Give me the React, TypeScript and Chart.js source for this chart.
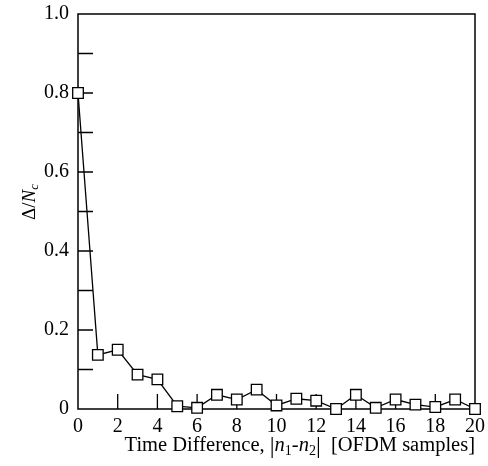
import React, { useEffect, useRef } from "react";
import { Chart, registerables } from "chart.js";

Chart.register(...registerables);

const X_VALUES = [0, 1, 2, 3, 4, 5, 6, 7, 8, 9, 10, 11, 12, 13, 14, 15, 16, 17, 18, 19, 20];
const DELTA_NC = [0.8, 0.137, 0.15, 0.087, 0.075, 0.007, 0.003, 0.036, 0.024, 0.049, 0.009, 0.026, 0.021, 0.0, 0.036, 0.003, 0.024, 0.011, 0.005, 0.024, 0.0];
const X_TITLE_PLAIN = "Time Difference, ";
const X_TITLE_UNIT = "  [OFDM samples]";
const Y_TITLE_DELTA = "Δ/";
const Y_TITLE_N = "N";
const Y_TITLE_SUB = "c";

const FONT = "'Liberation Serif', 'Times New Roman', serif";

type Run = { text: string; italic?: boolean; sub?: boolean; size?: number; dy?: number };

function runFont(r: Run, base: number) {
  const size = r.size ?? (r.sub ? Math.round(base * 0.7) : base);
  return `${r.italic ? "italic " : ""}${size}px ${FONT}`;
}

function measureRuns(ctx: CanvasRenderingContext2D, runs: Run[], base: number) {
  let w = 0;
  for (const r of runs) {
    ctx.font = runFont(r, base);
    w += ctx.measureText(r.text).width;
  }
  return w;
}

function drawRuns(ctx: CanvasRenderingContext2D, runs: Run[], x: number, y: number, base: number, subDy: number) {
  let cx = x;
  for (const r of runs) {
    ctx.font = runFont(r, base);
    ctx.fillText(r.text, cx, y + (r.sub ? subDy : 0) + (r.dy ?? 0));
    cx += ctx.measureText(r.text).width;
  }
}

function zeroPadding(s: any) {
  s.paddingTop = 0;
  s.paddingBottom = 0;
  s.paddingLeft = 0;
  s.paddingRight = 0;
}

const decorPlugin = {
  id: "decor",
  beforeDatasetsDraw(chart: any) {
    const { ctx, chartArea, scales } = chart;
    const { left, right, top, bottom } = chartArea;
    ctx.save();
    ctx.strokeStyle = "#000";
    ctx.lineWidth = 1.5;
    ctx.strokeRect(left, top, right - left, bottom - top);
    ctx.lineWidth = 1.3;
    ctx.beginPath();
    for (const t of scales.y.ticks) {
      const py = scales.y.getPixelForValue(t.value);
      if (py <= top + 1 || py >= bottom - 1) continue;
      ctx.moveTo(left, py);
      ctx.lineTo(left + 15, py);
    }
    for (const t of scales.x.ticks) {
      const px = scales.x.getPixelForValue(t.value);
      if (px <= left + 1 || px >= right - 1) continue;
      ctx.moveTo(px, bottom);
      ctx.lineTo(px, bottom - 15);
    }
    ctx.stroke();
    ctx.restore();
  },
  afterDraw(chart: any) {
    const { ctx } = chart;
    ctx.save();
    ctx.fillStyle = "#000";
    ctx.textBaseline = "alphabetic";
    ctx.textAlign = "left";
    const xRuns: Run[] = [
      { text: X_TITLE_PLAIN },
      { text: "|", size: 24, dy: 2 },
      { text: "n", italic: true },
      { text: "1", sub: true },
      { text: "-" },
      { text: "n", italic: true },
      { text: "2", sub: true },
      { text: "|", size: 24, dy: 2 },
      { text: X_TITLE_UNIT },
    ];
    const w = measureRuns(ctx, xRuns, 20.5);
    drawRuns(ctx, xRuns, 475 - w, 451, 20.5, 4);

    const yRuns: Run[] = [
      { text: Y_TITLE_DELTA },
      { text: Y_TITLE_N, italic: true },
      { text: Y_TITLE_SUB, italic: true, sub: true },
    ];
    const wy = measureRuns(ctx, yRuns, 19);
    ctx.translate(35, 202);
    ctx.rotate(-Math.PI / 2);
    drawRuns(ctx, yRuns, -wy / 2, 0, 19, 3);
    ctx.restore();
  },
};

export default function App() {
  const ref = useRef<HTMLCanvasElement | null>(null);
  useEffect(() => {
    if (!ref.current) return;
    const chart = new Chart(ref.current, {
      type: "line",
      data: {
        datasets: [
          {
            data: X_VALUES.map((x, i) => ({ x, y: DELTA_NC[i] })),
            borderColor: "#000",
            borderWidth: 1.3,
            pointStyle: "rect",
            pointRadius: 7.5,
            pointBackgroundColor: "#fff",
            pointBorderColor: "#000",
            pointBorderWidth: 1.3,
            tension: 0,
            clip: false as any,
          },
        ],
      },
      options: {
        responsive: false,
        animation: false,
        layout: { padding: { top: 14, right: 13, left: 0, bottom: 0 } },
        plugins: { legend: { display: false }, tooltip: { enabled: false } },
        scales: {
          x: {
            type: "linear",
            min: 0,
            max: 20,
            grid: { display: false, drawTicks: false },
            border: { display: false },
            ticks: {
              stepSize: 2,
              autoSkip: false,
              maxRotation: 0,
              padding: 6,
              color: "#000",
              font: { family: FONT, size: 20 },
            },
            afterFit: (s: any) => {
              s.height = 57;
              zeroPadding(s);
            },
          },
          y: {
            type: "linear",
            min: 0,
            max: 1,
            grid: { display: false, drawTicks: false },
            border: { display: false },
            ticks: {
              stepSize: 0.1,
              autoSkip: false,
              padding: 9,
              color: "#000",
              font: { family: FONT, size: 20 },
              callback: (v: any) => {
                const k = Math.round(Number(v) * 10);
                if (k % 2 !== 0) return "";
                return k === 0 ? "0" : (k / 10).toFixed(1);
              },
            },
            afterFit: (s: any) => {
              s.width = 78;
              zeroPadding(s);
            },
          },
        },
      },
      plugins: [decorPlugin],
    });
    return () => chart.destroy();
  }, []);
  return (
    <div style={{ position: "fixed", left: 0, top: 0, width: 488, height: 466, background: "#fff" }}>
      <canvas ref={ref} width={488} height={466} style={{ width: 488, height: 466 }} />
    </div>
  );
}
